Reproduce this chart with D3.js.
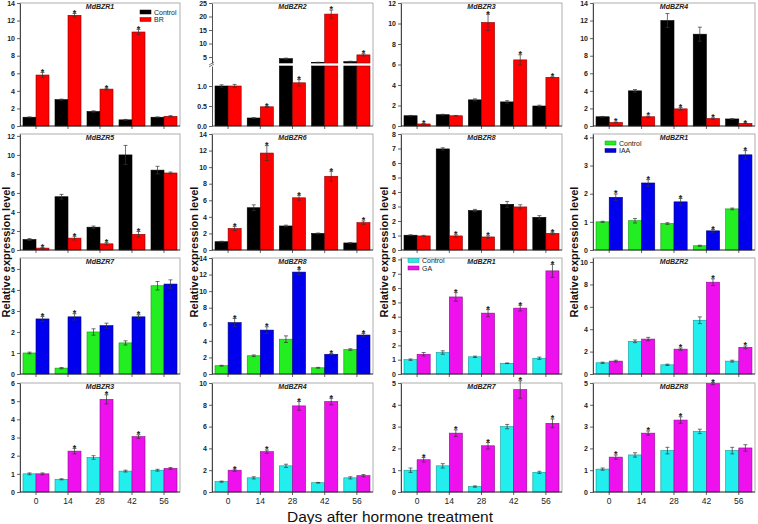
<!DOCTYPE html>
<html>
<head>
<meta charset="utf-8">
<script src="https://cdn.jsdelivr.net/npm/d3@7"></script>
<style>
  body { margin: 0; background: #fff; }
  text { font-family: Arial, "Liberation Sans", sans-serif; }
</style>
</head>
<body>
<svg id="chart" width="758" height="524"></svg>
<script>
// sampling days (x categories)
const days = ["0", "14", "28", "42", "56"];

// ---- BR treatment (control / BR) ----
const brBZR1Ctrl = [1.0, 3.0, 1.65, 0.7, 1.0];
const brBZR1CtrlErr = [0.04, 0.06, 0.08, 0.05, 0.04];
const brBZR1Trt = [5.8, 12.6, 4.2, 10.7, 1.1];
const brBZR1TrtErr = [0.3, 0.2, 0.1, 0.3, 0.08];
const brBZR1Stars = [0, 1, 2, 3];

const brBZR2Ctrl = [1.0, 0.2, 4.4, 3.0, 3.3];
const brBZR2CtrlErr = [0.03, 0.01, 0.2, 0.1, 0.15];
const brBZR2Trt = [1.0, 0.48, 1.08, 20.9, 5.8];
const brBZR2TrtErr = [0.04, 0.01, 0.08, 1.5, 0.4];
const brBZR2Stars = [1, 2, 3, 4];

const brBZR3Ctrl = [1.0, 1.1, 2.55, 2.35, 1.95];
const brBZR3CtrlErr = [0.03, 0.04, 0.1, 0.12, 0.08];
const brBZR3Trt = [0.2, 1.0, 10.1, 6.45, 4.75];
const brBZR3TrtErr = [0.03, 0.03, 0.8, 0.5, 0.05];
const brBZR3Stars = [0, 2, 3, 4];

const brBZR4Ctrl = [1.05, 4.0, 12.0, 10.45, 0.8];
const brBZR4CtrlErr = [0.04, 0.15, 0.8, 0.8, 0.04];
const brBZR4Trt = [0.4, 1.05, 1.95, 0.85, 0.3];
const brBZR4TrtErr = [0.05, 0.08, 0.15, 0.08, 0.03];
const brBZR4Stars = [0, 1, 2, 3, 4];

const brBZR5Ctrl = [1.1, 5.6, 2.4, 10.0, 8.4];
const brBZR5CtrlErr = [0.1, 0.25, 0.12, 1.0, 0.4];
const brBZR5Trt = [0.2, 1.25, 0.65, 1.65, 8.1];
const brBZR5TrtErr = [0.05, 0.2, 0.12, 0.3, 0.1];
const brBZR5Stars = [0, 1, 2, 3];

const brBZR6Ctrl = [1.0, 5.1, 2.9, 2.0, 0.85];
const brBZR6CtrlErr = [0.05, 0.35, 0.1, 0.05, 0.05];
const brBZR6Trt = [2.6, 11.7, 6.3, 8.9, 3.3];
const brBZR6TrtErr = [0.25, 0.9, 0.3, 0.6, 0.2];
const brBZR6Stars = [0, 1, 2, 3, 4];

const brBZR8Ctrl = [1.02, 6.97, 2.72, 3.15, 2.25];
const brBZR8CtrlErr = [0.03, 0.08, 0.08, 0.2, 0.12];
const brBZR8Trt = [0.97, 0.97, 0.9, 2.97, 1.15];
const brBZR8TrtErr = [0.04, 0.08, 0.08, 0.15, 0.08];
const brBZR8Stars = [1, 2, 4];

// ---- IAA treatment (control / IAA) ----
const iaaBZR1Ctrl = [1.0, 1.04, 0.94, 0.15, 1.46];
const iaaBZR1CtrlErr = [0.02, 0.08, 0.03, 0.02, 0.03];
const iaaBZR1Trt = [1.87, 2.38, 1.71, 0.68, 3.38];
const iaaBZR1TrtErr = [0.12, 0.12, 0.12, 0.05, 0.15];
const iaaBZR1Stars = [0, 1, 2, 3, 4];

const iaaBZR7Ctrl = [1.0, 0.28, 2.0, 1.48, 4.2];
const iaaBZR7CtrlErr = [0.04, 0.03, 0.15, 0.1, 0.2];
const iaaBZR7Trt = [2.62, 2.72, 2.3, 2.72, 4.28];
const iaaBZR7TrtErr = [0.12, 0.15, 0.12, 0.1, 0.2];
const iaaBZR7Stars = [0, 1, 3];

const iaaBZR8Ctrl = [1.0, 2.2, 4.2, 0.75, 2.95];
const iaaBZR8CtrlErr = [0.05, 0.1, 0.4, 0.05, 0.1];
const iaaBZR8Trt = [6.2, 5.3, 12.3, 2.38, 4.7];
const iaaBZR8TrtErr = [0.5, 0.4, 0.3, 0.08, 0.2];
const iaaBZR8Stars = [0, 1, 2, 3, 4];

// ---- GA treatment (control / GA) ----
const gaBZR1Ctrl = [1.0, 1.5, 1.2, 0.75, 1.1];
const gaBZR1CtrlErr = [0.05, 0.12, 0.05, 0.02, 0.08];
const gaBZR1Trt = [1.38, 5.38, 4.25, 4.6, 7.2];
const gaBZR1TrtErr = [0.12, 0.3, 0.25, 0.2, 0.45];
const gaBZR1Stars = [1, 2, 3, 4];

const gaBZR2Ctrl = [1.0, 2.92, 0.82, 4.8, 1.15];
const gaBZR2CtrlErr = [0.06, 0.12, 0.06, 0.3, 0.08];
const gaBZR2Trt = [1.15, 3.12, 2.22, 8.2, 2.38];
const gaBZR2TrtErr = [0.08, 0.15, 0.1, 0.3, 0.12];
const gaBZR2Stars = [2, 3, 4];

const gaBZR3Ctrl = [1.0, 0.7, 1.9, 1.15, 1.2];
const gaBZR3CtrlErr = [0.05, 0.03, 0.1, 0.05, 0.05];
const gaBZR3Trt = [1.0, 2.25, 5.1, 3.05, 1.3];
const gaBZR3TrtErr = [0.05, 0.15, 0.25, 0.1, 0.05];
const gaBZR3Stars = [1, 2, 3];

const gaBZR4Ctrl = [0.95, 1.3, 2.4, 0.85, 1.3];
const gaBZR4CtrlErr = [0.05, 0.1, 0.15, 0.03, 0.1];
const gaBZR4Trt = [2.0, 3.7, 7.9, 8.3, 1.5];
const gaBZR4TrtErr = [0.1, 0.15, 0.4, 0.3, 0.1];
const gaBZR4Stars = [0, 1, 2, 3];

const gaBZR7Ctrl = [1.0, 1.2, 0.25, 3.0, 0.9];
const gaBZR7CtrlErr = [0.1, 0.1, 0.03, 0.1, 0.05];
const gaBZR7Trt = [1.48, 2.7, 2.12, 4.7, 3.15];
const gaBZR7TrtErr = [0.1, 0.15, 0.15, 0.4, 0.2];
const gaBZR7Stars = [0, 1, 2, 3, 4];

const gaBZR8Ctrl = [1.05, 1.7, 1.9, 2.78, 1.9];
const gaBZR8CtrlErr = [0.05, 0.1, 0.15, 0.1, 0.15];
const gaBZR8Trt = [1.6, 2.7, 3.3, 4.97, 2.02];
const gaBZR8TrtErr = [0.1, 0.1, 0.15, 0.05, 0.15];
const gaBZR8Stars = [0, 1, 2, 3];

// tick labels
const ticks14 = [0, 2, 4, 6, 8, 10, 12, 14];
const ticks12 = [0, 2, 4, 6, 8, 10, 12];
const ticks10 = [0, 2, 4, 6, 8, 10];
const ticks8 = [0, 1, 2, 3, 4, 5, 6, 7, 8];
const ticks6 = [0, 1, 2, 3, 4, 5, 6];
const ticks5 = [0, 1, 2, 3, 4, 5];
const ticks4 = [0, 1, 2, 3, 4];
const brokenLowTicks = [0, 0.5, 1.0];
const brokenHighTicks = [5, 10, 15, 20, 25];

const legendLabels = { BR: ["Control", "BR"], IAA: ["Control", "IAA"], GA: ["Control", "GA"] };

// layout
const rowsY = [[3, 126], [134, 250], [258, 374], [383, 492]];
const colsX = [[20, 180], [212, 373], [401, 562], [593, 755]];
const fills = { BR: ["#000000", "#ff0000"], IAA: ["#22ee22", "#0000ee"], GA: ["#22eeee", "#ee11ee"] };
const strokes = { BR: ["#000000", "#880000"], IAA: ["#119911", "#000077"], GA: ["#119999", "#881188"] };

const panels = [
  { gene: "MdBZR1", h: "BR", row: 0, col: 0, c: brBZR1Ctrl, ce: brBZR1CtrlErr, t: brBZR1Trt, te: brBZR1TrtErr, s: brBZR1Stars, yMax: 14, ticks: ticks14, legend: [120, 7] },
  { gene: "MdBZR2", h: "BR", row: 0, col: 1, c: brBZR2Ctrl, ce: brBZR2CtrlErr, t: brBZR2Trt, te: brBZR2TrtErr, s: brBZR2Stars, broken: true },
  { gene: "MdBZR3", h: "BR", row: 0, col: 2, c: brBZR3Ctrl, ce: brBZR3CtrlErr, t: brBZR3Trt, te: brBZR3TrtErr, s: brBZR3Stars, yMax: 12, ticks: ticks12 },
  { gene: "MdBZR4", h: "BR", row: 0, col: 3, c: brBZR4Ctrl, ce: brBZR4CtrlErr, t: brBZR4Trt, te: brBZR4TrtErr, s: brBZR4Stars, yMax: 14, ticks: ticks14 },
  { gene: "MdBZR5", h: "BR", row: 1, col: 0, c: brBZR5Ctrl, ce: brBZR5CtrlErr, t: brBZR5Trt, te: brBZR5TrtErr, s: brBZR5Stars, yMax: 12.2, ticks: ticks12 },
  { gene: "MdBZR6", h: "BR", row: 1, col: 1, c: brBZR6Ctrl, ce: brBZR6CtrlErr, t: brBZR6Trt, te: brBZR6TrtErr, s: brBZR6Stars, yMax: 14, ticks: ticks14 },
  { gene: "MdBZR8", h: "BR", row: 1, col: 2, c: brBZR8Ctrl, ce: brBZR8CtrlErr, t: brBZR8Trt, te: brBZR8TrtErr, s: brBZR8Stars, yMax: 8, ticks: ticks8 },
  { gene: "MdBZR1", h: "IAA", row: 1, col: 3, c: iaaBZR1Ctrl, ce: iaaBZR1CtrlErr, t: iaaBZR1Trt, te: iaaBZR1TrtErr, s: iaaBZR1Stars, yMax: 4.12, ticks: ticks4, legend: [12, 7] },
  { gene: "MdBZR7", h: "IAA", row: 2, col: 0, c: iaaBZR7Ctrl, ce: iaaBZR7CtrlErr, t: iaaBZR7Trt, te: iaaBZR7TrtErr, s: iaaBZR7Stars, yMax: 5.52, ticks: ticks5 },
  { gene: "MdBZR8", h: "IAA", row: 2, col: 1, c: iaaBZR8Ctrl, ce: iaaBZR8CtrlErr, t: iaaBZR8Trt, te: iaaBZR8TrtErr, s: iaaBZR8Stars, yMax: 14, ticks: ticks14 },
  { gene: "MdBZR1", h: "GA", row: 2, col: 2, c: gaBZR1Ctrl, ce: gaBZR1CtrlErr, t: gaBZR1Trt, te: gaBZR1TrtErr, s: gaBZR1Stars, yMax: 8.1, ticks: ticks8, legend: [7, 0.5] },
  { gene: "MdBZR2", h: "GA", row: 2, col: 3, c: gaBZR2Ctrl, ce: gaBZR2CtrlErr, t: gaBZR2Trt, te: gaBZR2TrtErr, s: gaBZR2Stars, yMax: 10.36, ticks: ticks10 },
  { gene: "MdBZR3", h: "GA", row: 3, col: 0, c: gaBZR3Ctrl, ce: gaBZR3CtrlErr, t: gaBZR3Trt, te: gaBZR3TrtErr, s: gaBZR3Stars, yMax: 6, ticks: ticks6 },
  { gene: "MdBZR4", h: "GA", row: 3, col: 1, c: gaBZR4Ctrl, ce: gaBZR4CtrlErr, t: gaBZR4Trt, te: gaBZR4TrtErr, s: gaBZR4Stars, yMax: 10, ticks: ticks10 },
  { gene: "MdBZR7", h: "GA", row: 3, col: 2, c: gaBZR7Ctrl, ce: gaBZR7CtrlErr, t: gaBZR7Trt, te: gaBZR7TrtErr, s: gaBZR7Stars, yMax: 5, ticks: ticks5 },
  { gene: "MdBZR8", h: "GA", row: 3, col: 3, c: gaBZR8Ctrl, ce: gaBZR8CtrlErr, t: gaBZR8Trt, te: gaBZR8TrtErr, s: gaBZR8Stars, yMax: 5, ticks: ticks5 }
];

const svg = d3.select("#chart");

function styleAxis(g) {
  g.selectAll("path.domain").attr("stroke", "#222").attr("stroke-width", 0.8);
  g.selectAll(".tick line").attr("stroke", "#222").attr("stroke-width", 0.7);
  g.selectAll(".tick text").attr("font-size", 7).attr("font-weight", "bold").attr("fill", "#222")
    .attr("font-family", "Arial, 'Liberation Sans', sans-serif");
}

function drawPanel(p) {
  const [x0, x1] = colsX[p.col];
  const [yTop, yBot] = rowsY[p.row];
  const g = svg.append("g");

  const x = d3.scaleBand().domain(days).range([x0, x1]).paddingInner(0.1875).paddingOuter(0.09375);
  const xs = d3.scaleBand().domain(["c", "t"]).range([0, x.bandwidth()]);

  // y mapping (plain or broken axis)
  let yPos, segs;
  if (p.broken) {
    const lowMax = 1.5, highMin = 2.8, gapTop = 63, gapBot = 66;
    const yL = d3.scaleLinear().domain([0, lowMax]).range([yBot, gapBot]);
    const yH = d3.scaleLinear().domain([highMin, 25]).range([gapTop, yTop]);
    yPos = v => v <= lowMax ? yL(v) : yH(Math.max(v, highMin));
    segs = v => v <= lowMax ? [[yL(v), yL(0)]] : [[yL(lowMax), yL(0)], [yH(v), yH(highMin)]];
    const aL = g.append("g").attr("transform", `translate(${x0},0)`)
      .call(d3.axisLeft(yL).tickValues(brokenLowTicks).tickSize(3).tickSizeOuter(0).tickPadding(2).tickFormat(d3.format(".1f")));
    const aH = g.append("g").attr("transform", `translate(${x0},0)`)
      .call(d3.axisLeft(yH).tickValues(brokenHighTicks).tickSize(3).tickSizeOuter(0).tickPadding(2).tickFormat(d3.format("d")));
    styleAxis(aL); styleAxis(aH);
    // frame (right & top)
    g.append("path").attr("d", `M${x0},${yTop}H${x1}V${yBot}`).attr("fill", "none").attr("stroke", "#999").attr("stroke-width", 0.8);
    // break marks
    [gapTop + 0.5, gapBot - 0.5].forEach(yy => {
      g.append("line").attr("x1", x0 - 3).attr("x2", x0 + 2).attr("y1", yy + 1.5).attr("y2", yy - 1.5)
        .attr("stroke", "#444").attr("stroke-width", 0.7);
    });
  } else {
    const y = d3.scaleLinear().domain([0, p.yMax]).range([yBot, yTop]);
    yPos = v => y(v);
    segs = v => [[y(v), y(0)]];
    g.append("rect").attr("x", x0).attr("y", yTop).attr("width", x1 - x0).attr("height", yBot - yTop)
      .attr("fill", "none").attr("stroke", "#999").attr("stroke-width", 0.8);
    const a = g.append("g").attr("transform", `translate(${x0},0)`)
      .call(d3.axisLeft(y).tickValues(p.ticks).tickSize(3).tickSizeOuter(0).tickPadding(2).tickFormat(d3.format("d")));
    styleAxis(a);
  }

  // bars
  const rows = days.map((d, i) => ({ d, i }));
  [["c", p.c, p.ce, 0], ["t", p.t, p.te, 1]].forEach(([key, vals, errs, k]) => {
    rows.forEach(r => {
      const bx = x(r.d) + xs(key);
      segs(vals[r.i]).forEach(([sy0, sy1]) => {
        g.append("rect").attr("x", bx).attr("y", sy0).attr("width", xs.bandwidth()).attr("height", Math.max(0, sy1 - sy0))
          .attr("fill", fills[p.h][k]).attr("stroke", strokes[p.h][k]).attr("stroke-width", 0.6);
      });
      // error bar
      const cx = bx + xs.bandwidth() / 2;
      const eTop = yPos(vals[r.i] + errs[r.i]), eBot = yPos(Math.max(0, vals[r.i] - errs[r.i]));
      g.append("line").attr("x1", cx).attr("x2", cx).attr("y1", eTop).attr("y2", eBot).attr("stroke", "#333").attr("stroke-width", 0.7);
      g.append("line").attr("x1", cx - 2).attr("x2", cx + 2).attr("y1", eTop).attr("y2", eTop).attr("stroke", "#333").attr("stroke-width", 0.7);
      g.append("line").attr("x1", cx - 2).attr("x2", cx + 2).attr("y1", eBot).attr("y2", eBot).attr("stroke", "#333").attr("stroke-width", 0.7);
      // significance star
      if (k === 1 && p.s.includes(r.i)) {
        g.append("text").attr("x", cx).attr("y", eTop + 2.4).attr("text-anchor", "middle")
          .attr("font-size", 9).attr("font-weight", "bold").attr("fill", "#222").text("*");
      }
    });
  });

  // x axis baseline and ticks
  g.append("line").attr("x1", x0).attr("x2", x1).attr("y1", yBot).attr("y2", yBot).attr("stroke", "#222").attr("stroke-width", 0.8);
  days.forEach(d => {
    const cx = x(d) + x.bandwidth() / 2;
    g.append("line").attr("x1", cx).attr("x2", cx).attr("y1", yBot).attr("y2", yBot + 3).attr("stroke", "#222").attr("stroke-width", 0.7);
    if (p.row === 3) {
      g.append("text").attr("x", cx).attr("y", yBot + 12).attr("text-anchor", "middle")
        .attr("font-size", 8.5).attr("fill", "#222").text(d);
    }
  });

  // gene title
  g.append("text").attr("x", (x0 + x1) / 2).attr("y", yTop + 6).attr("text-anchor", "middle")
    .attr("font-size", 7).attr("font-weight", "bold").attr("font-style", "italic").attr("fill", "#222").text(p.gene);

  // legend
  if (p.legend) {
    const [lx, ly] = p.legend;
    legendLabels[p.h].forEach((lab, k) => {
      const yy = yTop + ly + k * 7.5;
      g.append("rect").attr("x", x0 + lx).attr("y", yy).attr("width", 11).attr("height", 4)
        .attr("fill", fills[p.h][k]).attr("stroke", strokes[p.h][k]).attr("stroke-width", 0.5);
      g.append("text").attr("x", x0 + lx + 14).attr("y", yy + 4.5).attr("font-size", 7).attr("fill", "#222").text(lab);
    });
  }
}

panels.forEach(drawPanel);

// y axis titles
[6, 194, 384, 574].forEach(tx => {
  svg.append("text").attr("transform", `translate(${tx},252) rotate(-90)`).attr("text-anchor", "middle")
    .attr("dominant-baseline", "central").attr("font-size", 11).attr("font-weight", "bold").attr("fill", "#111")
    .text("Relative expression level");
});

// x axis title
svg.append("text").attr("x", 390).attr("y", 522).attr("text-anchor", "middle").attr("font-size", 15.5).attr("fill", "#111")
  .text("Days after hormone treatment");
</script>
</body>
</html>
